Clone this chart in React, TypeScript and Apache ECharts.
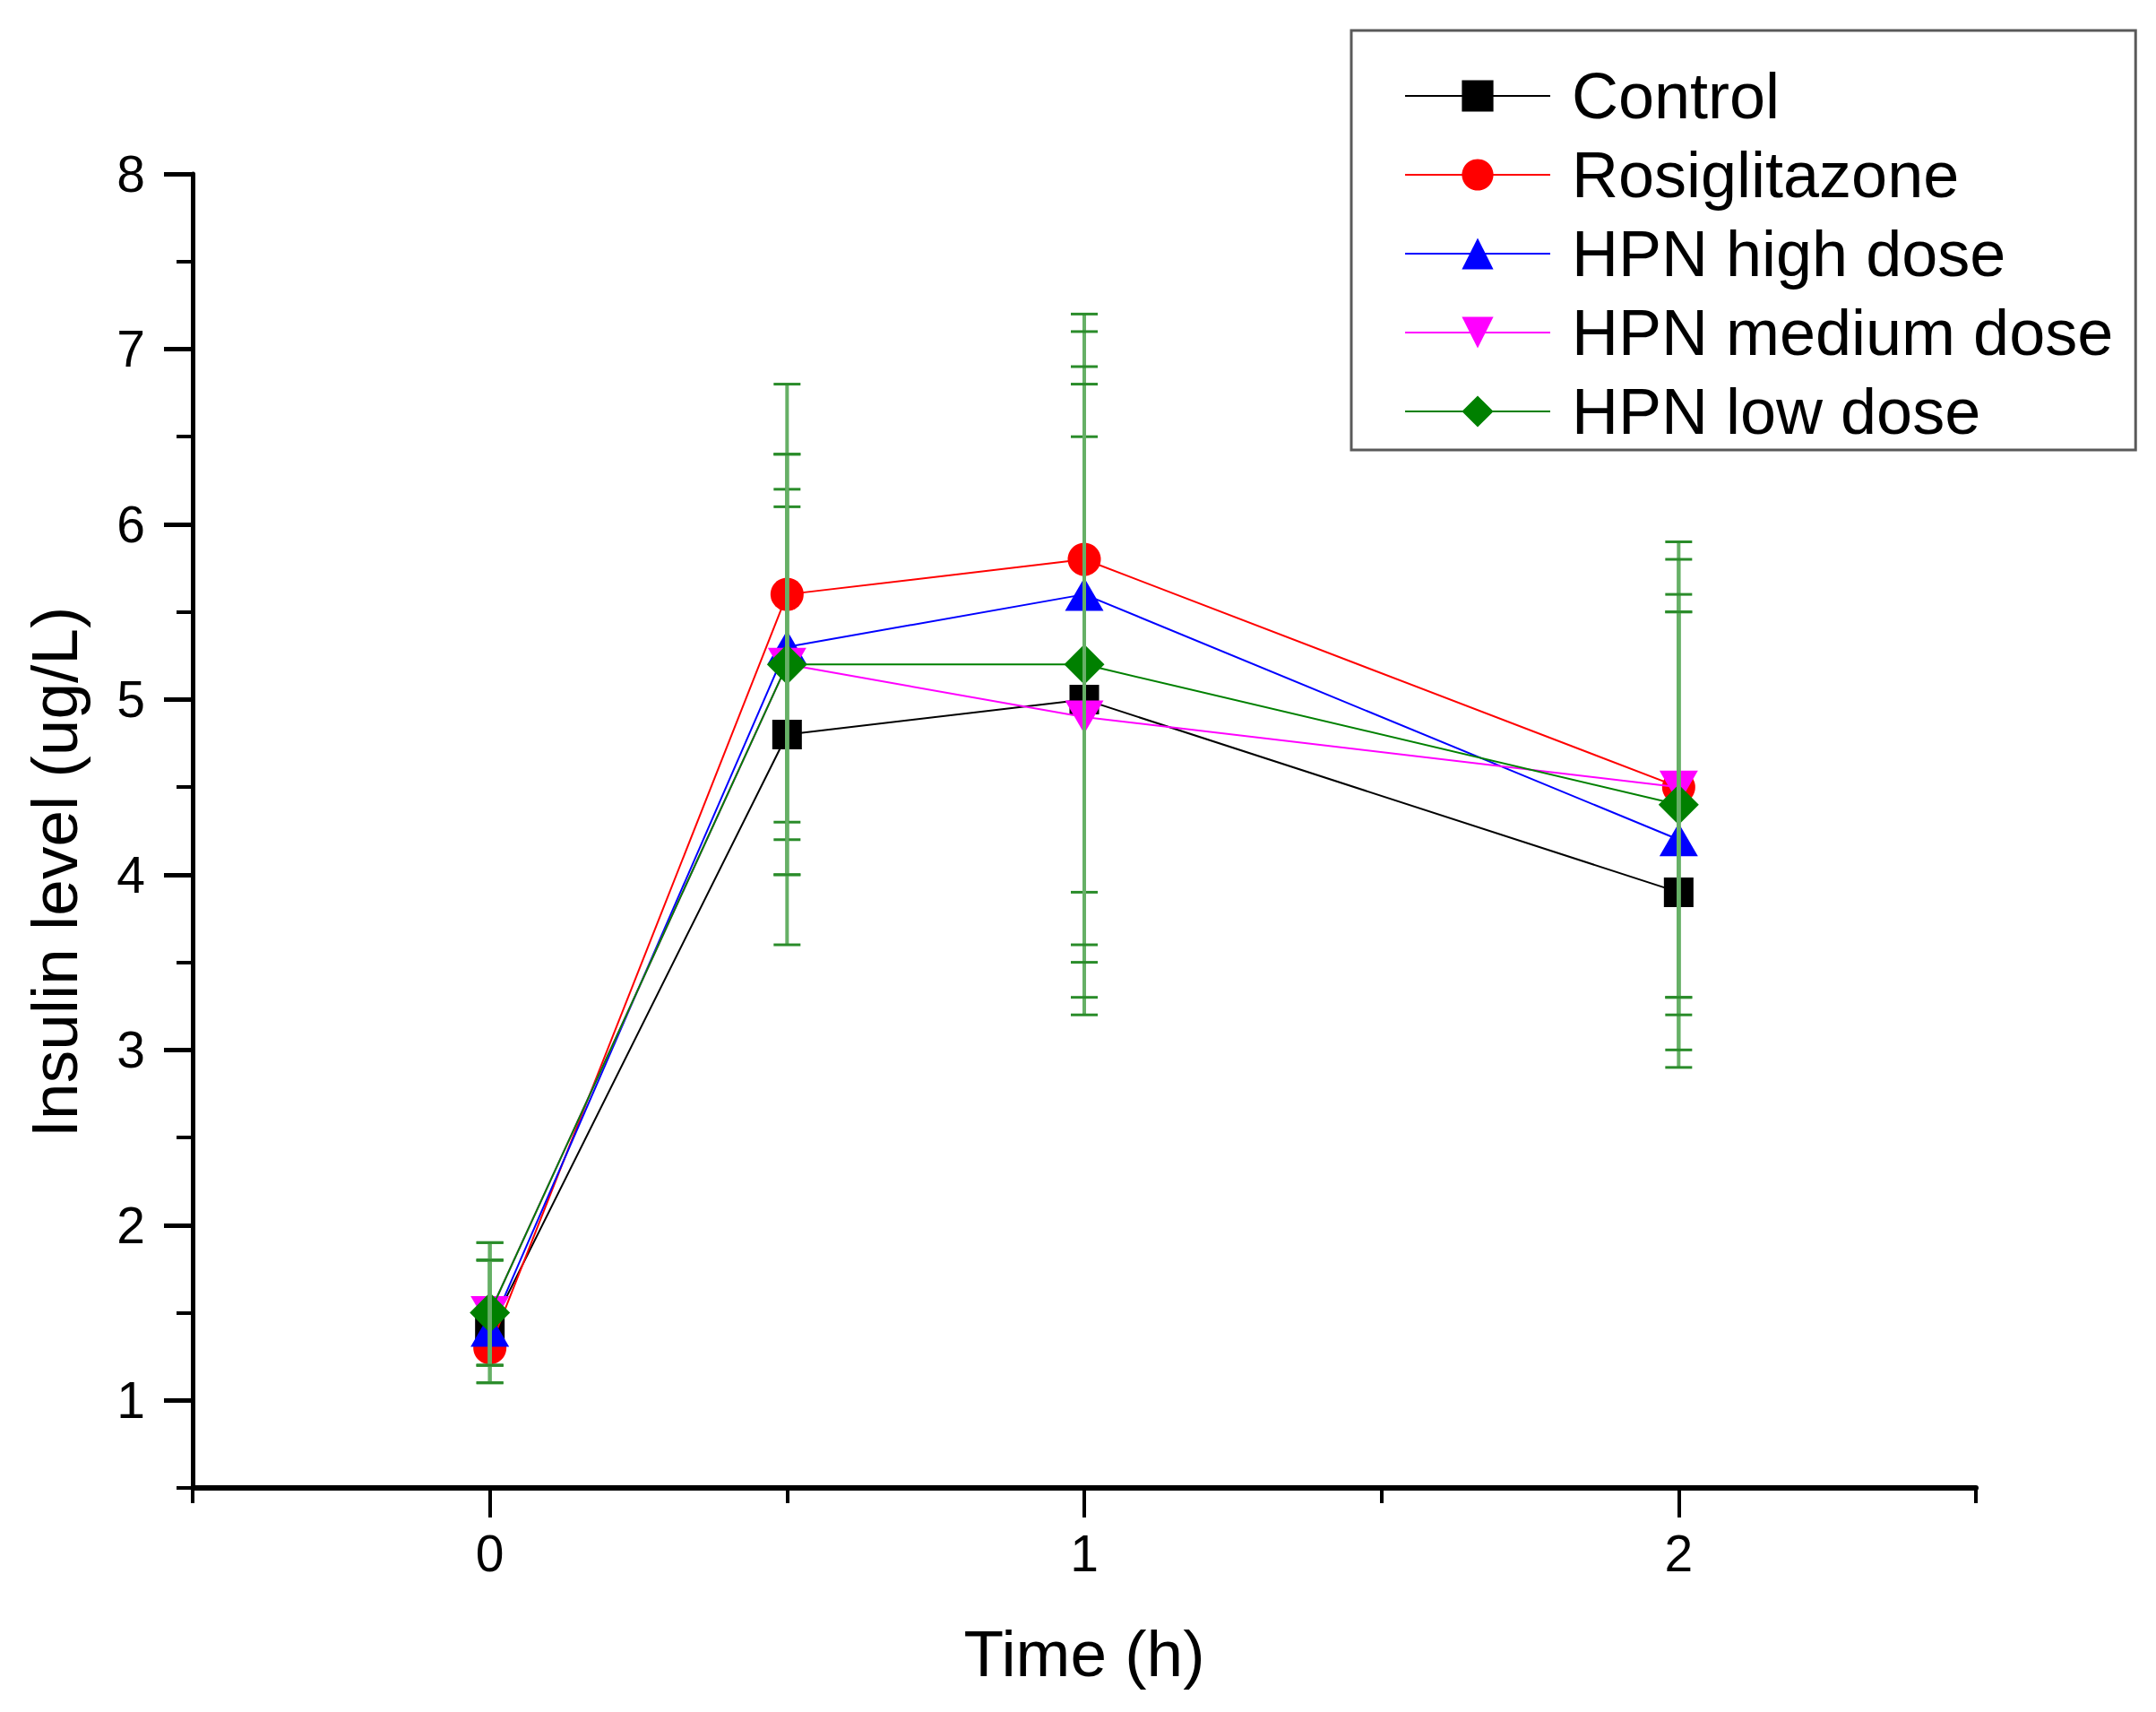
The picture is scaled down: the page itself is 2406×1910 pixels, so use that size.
import React, { useEffect, useRef } from "react";
import * as echarts from "echarts";

const times = [0, 0.5, 1, 2];
const seriesNames = ["Control", "Rosiglitazone", "HPN high dose", "HPN medium dose", "HPN low dose"];
const control = [1.4, 4.8, 5.0, 3.9];
const rosiglitazone = [1.3, 5.6, 5.8, 4.5];
const hpnHigh = [1.4, 5.3, 5.6, 4.2];
const hpnMedium = [1.5, 5.2, 4.9, 4.5];
const hpnLow = [1.5, 5.2, 5.2, 4.4];

// error half-widths (the reference draws all error bars around the HPN low dose means)
const sdControl = [0.3, 1.2, 1.3, 1.1];
const sdRosiglitazone = [0.4, 1.6, 2.0, 1.5];
const sdHpnHigh = [0.3, 1.0, 1.9, 1.4];
const sdHpnMedium = [0.4, 0.9, 1.7, 1.2];
const sdHpnLow = [0.3, 1.2, 1.6, 1.1];

const xMajorTicks = [0, 1, 2];
const xMinorTicks = [-0.5, 0.5, 1.5, 2.5];
const yMajorTicks = [1, 2, 3, 4, 5, 6, 7, 8];
const yMinorTicks = [0.5, 1.5, 2.5, 3.5, 4.5, 5.5, 6.5, 7.5];

const FONT = "'Liberation Sans', Arial, sans-serif";

export default function App() {
  const ref = useRef<HTMLDivElement>(null);

  useEffect(() => {
    if (!ref.current) return;
    const chart = echarts.init(ref.current, undefined, { renderer: "svg" });

    const values = [control, rosiglitazone, hpnHigh, hpnMedium, hpnLow];
    const sds = [sdControl, sdRosiglitazone, sdHpnHigh, sdHpnMedium, sdHpnLow];
    const colors = ["#000000", "#ff0000", "#0000ff", "#ff00ff", "#008000"];
    const symbols = ["rect", "circle", "triangle", "triangle", "diamond"];
    const sizes: any[] = [33, 37, [43, 37], [43, 37], 45];
    const rotates = [0, 0, 0, 180, 0];

    const lineSeries = values.map((vals, k) => ({
      name: seriesNames[k],
      type: "line",
      data: times.map((t, i) => [t, vals[i]]),
      symbol: symbols[k],
      symbolSize: sizes[k],
      symbolRotate: rotates[k],
      showAllSymbol: true,
      lineStyle: { color: colors[k], width: 2 },
      itemStyle: { color: colors[k] },
      z: 2 + k,
      xAxisIndex: 0,
      yAxisIndex: 0,
    }));

    const errData: number[][] = [];
    sds.forEach((sd) => {
      times.forEach((t, i) => {
        errData.push([t, hpnLow[i], sd[i]]);
      });
    });

    const errSeries = {
      type: "custom",
      xAxisIndex: 0,
      yAxisIndex: 0,
      z: 20,
      silent: true,
      data: errData,
      encode: { x: 0, y: 1 },
      renderItem: (params: any, api: any) => {
        const x = api.value(0);
        const c = api.value(1);
        const sd = api.value(2);
        const top = api.coord([x, c + sd]);
        const bot = api.coord([x, c - sd]);
        const half = 15;
        return {
          type: "group",
          children: [
            {
              type: "line",
              shape: { x1: top[0], y1: top[1], x2: bot[0], y2: bot[1] },
              style: { stroke: "#66b066", lineWidth: 4 },
            },
            {
              type: "line",
              shape: { x1: top[0] - half, y1: top[1], x2: top[0] + half, y2: top[1] },
              style: { stroke: "#2a8c2a", lineWidth: 3 },
            },
            {
              type: "line",
              shape: { x1: bot[0] - half, y1: bot[1], x2: bot[0] + half, y2: bot[1] },
              style: { stroke: "#2a8c2a", lineWidth: 3 },
            },
          ],
        };
      },
    };

    const option: any = {
      animation: false,
      backgroundColor: "#ffffff",
      textStyle: { fontFamily: FONT, color: "#000" },
      grid: { left: 215, right: 201, top: 194, bottom: 250, containLabel: false },
      legend: {
        orient: "vertical",
        left: 1508,
        top: 34,
        data: seriesNames,
        padding: [37, 25, 7, 59],
        itemWidth: 162,
        itemHeight: 44,
        itemGap: 16,
        backgroundColor: "#ffffff",
        borderColor: "#5a5a5a",
        borderWidth: 3,
        borderRadius: 0,
        textStyle: {
          fontFamily: FONT,
          fontSize: 72,
          lineHeight: 72,
          color: "#000",
          padding: [0, 0, 0, 19],
        },
      },
      xAxis: [
        {
          type: "value",
          min: -0.5,
          max: 2.5,
          position: "bottom",
          axisLine: { show: true, onZero: false, lineStyle: { color: "#000", width: 6 } },
          axisTick: {
            show: true,
            customValues: xMajorTicks,
            length: 33,
            lineStyle: { color: "#000", width: 4 },
          },
          axisLabel: {
            customValues: xMajorTicks,
            fontSize: 57,
            margin: 44,
            color: "#000",
            fontFamily: FONT,
          },
          splitLine: { show: false },
          name: "Time (h)",
          nameLocation: "middle",
          nameGap: 148,
          nameTextStyle: { fontSize: 73, color: "#000", fontFamily: FONT },
        },
        {
          type: "value",
          min: -0.5,
          max: 2.5,
          position: "bottom",
          axisLine: { show: false, onZero: false },
          axisTick: {
            show: true,
            customValues: xMinorTicks,
            length: 17,
            lineStyle: { color: "#000", width: 4 },
          },
          axisLabel: { show: false },
          splitLine: { show: false },
        },
      ],
      yAxis: [
        {
          type: "value",
          min: 0.5,
          max: 8,
          position: "left",
          axisLine: { show: true, onZero: false, lineStyle: { color: "#000", width: 5 } },
          axisTick: {
            show: true,
            customValues: yMajorTicks,
            length: 32,
            lineStyle: { color: "#000", width: 5 },
          },
          axisLabel: {
            customValues: yMajorTicks,
            fontSize: 57,
            margin: 53,
            color: "#000",
            fontFamily: FONT,
          },
          splitLine: { show: false },
          name: "Insulin level (ug/L)",
          nameLocation: "middle",
          nameGap: 118,
          nameTextStyle: { fontSize: 73, color: "#000", fontFamily: FONT, padding: [0, 92, 0, 0] },
        },
        {
          type: "value",
          min: 0.5,
          max: 8,
          position: "left",
          axisLine: { show: false, onZero: false },
          axisTick: {
            show: true,
            customValues: yMinorTicks,
            length: 18,
            lineStyle: { color: "#000", width: 4 },
          },
          axisLabel: { show: false },
          splitLine: { show: false },
        },
      ],
      series: [...lineSeries, errSeries],
    };

    chart.setOption(option);
    return () => {
      chart.dispose();
    };
  }, []);

  return (
    <div
      ref={ref}
      style={{ position: "fixed", left: 0, top: 0, width: 2406, height: 1910, background: "#fff" }}
    />
  );
}
